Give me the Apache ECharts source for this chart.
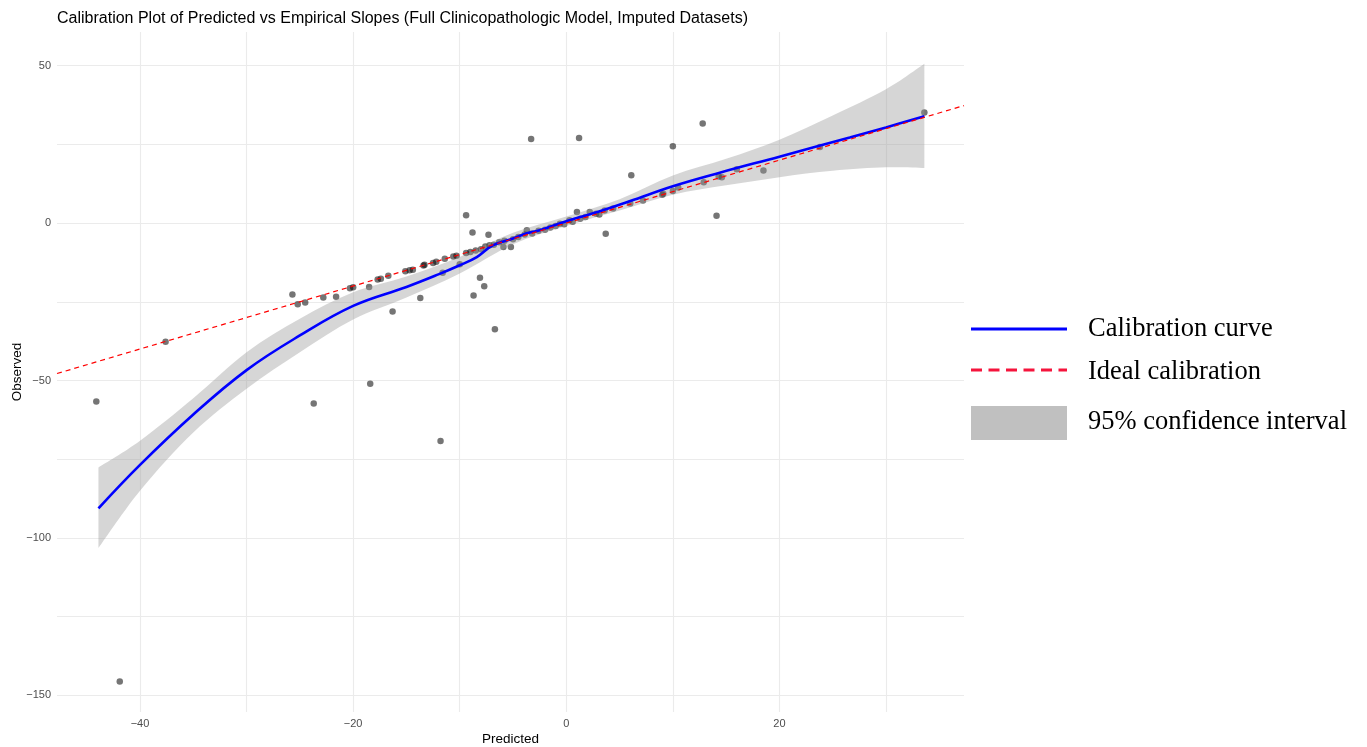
<!DOCTYPE html>
<html>
<head>
<meta charset="utf-8">
<title>Calibration Plot</title>
<script src="https://cdn.jsdelivr.net/npm/echarts@6/dist/echarts.min.js"></script>
<style>
  html, body { margin: 0; padding: 0; background: #ffffff; }
  #chart { width: 1367px; height: 747px; }
</style>
</head>
<body>
<div id="chart"></div>
<script>
// Observed vs predicted slopes, one point per patient
const predicted = [
  -44.1, -41.9, -37.6, -25.7, -25.2, -24.5, -23.7, -22.8, -21.6, -20.3,
  -20.0, -18.5, -18.4, -17.7, -17.4, -16.7, -16.3, -15.1, -14.7, -14.4,
  -13.7, -13.4, -13.3, -12.5, -12.2, -11.8, -11.6, -11.4, -10.6, -10.3,
  -10.0, -9.4, -9.4, -9.0, -8.8, -8.7, -8.5, -8.1, -8.0, -7.7,
  -7.6, -7.3, -7.2, -6.8, -6.7, -6.3, -5.9, -5.8, -5.2, -5.0,
  -4.5, -3.9, -3.7, -3.3, -3.2, -2.6, -2.0, -1.5, -1.0, -0.6,
  -0.2, 0.3, 0.6, 1.0, 1.2, 1.3, 1.8, 2.2, 2.8, 3.1,
  3.6, 3.7, 4.4, 6.0, 6.1, 7.2, 9.0, 9.1, 10.0, 10.0,
  10.5, 12.8, 12.9, 14.1, 14.3, 14.6, 16.0, 18.5, 23.8, 33.6
];
const observed = [
  -56.7, -145.6, -37.7, -22.7, -25.8, -25.2, -57.3, -23.6, -23.4, -20.7,
  -20.4, -20.3, -51.0, -17.9, -17.7, -16.7, -28.1, -15.3, -15.0, -14.8,
  -23.8, -13.5, -13.2, -12.7, -12.3, -69.2, -15.8, -11.3, -10.6, -10.4,
  -13.1, 2.5, -9.5, -9.2, -3.0, -23.0, -8.7, -17.4, -8.3, -20.1,
  -7.4, -3.7, -7.0, -6.9, -33.7, -6.1, -7.6, -5.6, -7.6, -5.1,
  -4.4, -3.6, -2.3, 26.7, -3.3, -2.4, -2.1, -1.4, -0.9, -0.2,
  -0.4, 0.9, 0.4, 3.5, 27.0, 1.4, 1.9, 3.5, 3.0, 2.7,
  4.0, -3.4, 4.6, 6.2, 15.2, 7.2, 9.0, 9.3, 24.4, 10.2,
  11.3, 31.6, 13.0, 2.3, 14.8, 14.6, 17.1, 16.7, 24.2, 35.1
];

// Smoothed calibration curve
const curveX = [-43.9, -40, -35, -30, -25, -20, -15, -12, -10, -8.4, -6.9, -5, -3.7, -2.5, 0, 1.3, 3, 6, 10, 14.4, 20, 26.6, 30, 33.6];
const curveY = [-90.6, -76.8, -60.8, -46.7, -35.7, -26.3, -20.3, -16.3, -13.4, -10.8, -7.1, -4.9, -3.2, -2.3, 0.6, 1.9, 3.6, 7.0, 11.7, 16.0, 21.1, 27.2, 30.4, 33.9];

// 95% confidence band around the curve
const bandX     = [-43.9, -40, -35, -30, -25, -20, -15, -10, -5, 0, 5, 10, 15, 20, 25, 30, 33.6];
const bandLower = [-103.2, -85.0, -66.5, -52.6, -41.0, -30.6, -23.6, -16.0, -6.7, -0.9, 4.0, 9.0, 12.0, 14.6, 16.6, 17.7, 17.5];
const bandUpper = [-77.6, -69.1, -55.6, -41.0, -30.4, -22.0, -17.0, -10.8, -3.1, 2.1, 7.6, 15.1, 20.4, 26.5, 34.2, 42.5, 50.6];

// Axis extents and ticks
const xRange = [-47.79, 37.32];
const yRange = [-155.3, 60.7];
const xLabelTicks = [-40, -20, 0, 20];
const xGridTicks = [-40, -30, -20, -10, 0, 10, 20, 30];
const yLabelTicks = [-150, -100, -50, 0, 50];
const yGridTicks = [-150, -125, -100, -75, -50, -25, 0, 25, 50];

const minus = v => String(v).replace('-', '\u2212');

// Smooth path through pixel points (Catmull-Rom segments as cubic Beziers)
function smoothSegments(pts) {
  let d = '';
  for (let i = 0; i < pts.length - 1; i++) {
    const p0 = pts[Math.max(i - 1, 0)];
    const p1 = pts[i];
    const p2 = pts[i + 1];
    const p3 = pts[Math.min(i + 2, pts.length - 1)];
    const c1x = p1[0] + (p2[0] - p0[0]) / 6;
    const c1y = p1[1] + (p2[1] - p0[1]) / 6;
    const c2x = p2[0] - (p3[0] - p1[0]) / 6;
    const c2y = p2[1] - (p3[1] - p1[1]) / 6;
    d += ' C' + c1x + ' ' + c1y + ' ' + c2x + ' ' + c2y + ' ' + p2[0] + ' ' + p2[1];
  }
  return d;
}

const chart = echarts.init(document.getElementById('chart'), null, { renderer: 'canvas' });

const sansFont = '"Liberation Sans", Arial, sans-serif';
const serifFont = '"Liberation Serif", "Times New Roman", serif';

const option = {
  backgroundColor: '#ffffff',
  animation: false,
  title: {
    text: 'Calibration Plot of Predicted vs Empirical Slopes (Full Clinicopathologic Model, Imputed Datasets)',
    left: 52,
    top: 6,
    textStyle: { fontFamily: sansFont, fontSize: 16, fontWeight: 'normal', color: '#000000' }
  },
  grid: { left: 57, right: 403, top: 32, bottom: 35, containLabel: false, outerBoundsMode: 'none' },
  xAxis: {
    type: 'value',
    min: xRange[0],
    max: xRange[1],
    name: 'Predicted',
    nameLocation: 'middle',
    nameGap: 20,
    nameMoveOverlap: false,
    nameTextStyle: { fontFamily: sansFont, fontSize: 13.5, color: '#000000' },
    axisLine: { show: false },
    axisTick: { show: false, customValues: xGridTicks },
    axisLabel: {
      customValues: xLabelTicks,
      formatter: minus,
      fontFamily: sansFont, fontSize: 11, color: '#4d4d4d', margin: 6
    },
    splitLine: { show: true, lineStyle: { color: '#ebebeb', width: 1.1 } }
  },
  yAxis: {
    type: 'value',
    min: yRange[0],
    max: yRange[1],
    name: 'Observed',
    nameLocation: 'middle',
    nameRotate: 90,
    nameGap: 33,
    nameMoveOverlap: false,
    nameTextStyle: { fontFamily: sansFont, fontSize: 13.5, color: '#000000' },
    axisLine: { show: false },
    axisTick: { show: false, customValues: yGridTicks },
    axisLabel: {
      customValues: yLabelTicks,
      formatter: minus,
      fontFamily: sansFont, fontSize: 11, color: '#4d4d4d', margin: 6
    },
    splitLine: { show: true, lineStyle: { color: '#ebebeb', width: 1.1 } }
  },
  series: [
    {
      name: 'points',
      type: 'scatter',
      data: predicted.map((x, i) => [x, observed[i]]),
      symbol: 'circle',
      symbolSize: 6.5,
      itemStyle: { color: 'rgba(0,0,0,0.68)' },
      z: 2,
      silent: true
    },
    {
      name: '95% confidence interval',
      type: 'custom',
      data: bandX.map((x, i) => [x, bandLower[i], bandUpper[i]]),
      encode: { x: 0, y: [1, 2] },
      renderItem: function (params, api) {
        if (params.dataIndex !== 0) return null;
        const upper = bandX.map((x, i) => api.coord([x, bandUpper[i]]));
        const lower = bandX.map((x, i) => api.coord([x, bandLower[i]])).reverse();
        const d = 'M' + upper[0][0] + ' ' + upper[0][1] + smoothSegments(upper) +
                  ' L' + lower[0][0] + ' ' + lower[0][1] + smoothSegments(lower) + ' Z';
        return {
          type: 'path',
          shape: { pathData: d },
          style: { fill: 'rgba(153,153,153,0.4)', stroke: null }
        };
      },
      z: 3,
      silent: true
    },
    {
      name: 'Calibration curve',
      type: 'line',
      data: curveX.map((x, i) => [x, curveY[i]]),
      smooth: 0.4,
      symbol: 'none',
      lineStyle: { color: '#0000ff', width: 2.6 },
      z: 4,
      silent: true
    },
    {
      name: 'Ideal calibration',
      type: 'line',
      data: xRange.map(v => [v, v]),
      symbol: 'none',
      lineStyle: { color: '#ff0000', width: 1.2, type: [5, 4] },
      z: 5,
      silent: true
    }
  ],
  graphic: [
    {
      type: 'line',
      shape: { x1: 971, y1: 329, x2: 1067, y2: 329 },
      style: { stroke: '#0000ff', lineWidth: 3 }
    },
    {
      type: 'text',
      x: 1088, y: 329,
      style: { text: 'Calibration curve', font: '26.5px ' + serifFont, fill: '#000000', verticalAlign: 'middle' }
    },
    {
      type: 'line',
      shape: { x1: 971, y1: 370, x2: 1067, y2: 370 },
      style: { stroke: '#f5143c', lineWidth: 3, lineDash: [11, 6.5] }
    },
    {
      type: 'text',
      x: 1088, y: 372,
      style: { text: 'Ideal calibration', font: '26.5px ' + serifFont, fill: '#000000', verticalAlign: 'middle' }
    },
    {
      type: 'rect',
      shape: { x: 971, y: 406, width: 96, height: 34 },
      style: { fill: '#c0c0c0' }
    },
    {
      type: 'text',
      x: 1088, y: 422,
      style: { text: '95% confidence interval', font: '26.5px ' + serifFont, fill: '#000000', verticalAlign: 'middle' }
    }
  ]
};

chart.setOption(option);
</script>
</body>
</html>
